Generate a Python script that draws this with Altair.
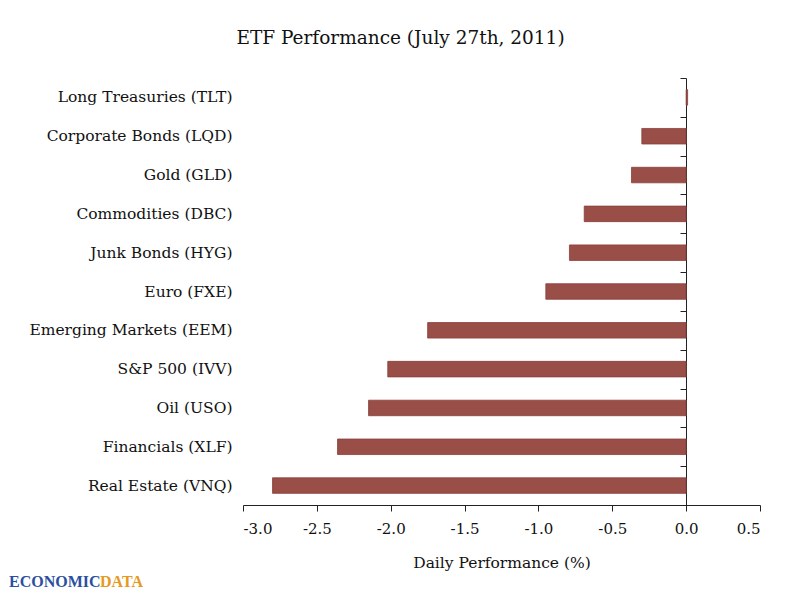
import altair as alt
import pandas as pd

names = ["Long Treasuries (TLT)", "Corporate Bonds (LQD)", "Gold (GLD)", "Commodities (DBC)",
         "Junk Bonds (HYG)", "Euro (FXE)", "Emerging Markets (EEM)", "S&P 500 (IVV)",
         "Oil (USO)", "Financials (XLF)", "Real Estate (VNQ)"]
values = [0.01, -0.30, -0.37, -0.69, -0.79, -0.95, -1.75, -2.02, -2.15, -2.36, -2.80]
x_ticks = [-3.0, -2.5, -2.0, -1.5, -1.0, -0.5, 0.0, 0.5]

df = pd.DataFrame({"name": names, "value": values})
FONT = "DejaVu Serif"

xscale = alt.Scale(domain=[-3.0, 0.5], nice=False, zero=False)

xenc = alt.X("value:Q", scale=xscale,
             axis=alt.Axis(values=x_ticks, format=".1f",
                           labelExpr="replace(datum.label, '\u2212', '-')",
                           title="Daily Performance (%)", grid=False,
                           domainColor="#222", tickColor="#222", tickSize=6,
                           labelFont=FONT, labelFontSize=15, labelColor="#111", labelPadding=10,
                           titleFont=FONT, titleFontSize=15.5, titleFontWeight="normal",
                           titleColor="#111", titlePadding=19))

bars = alt.Chart(df).mark_bar(color="#9A4E48", stroke="#8A3F3A", strokeWidth=0.8).encode(
    x=xenc,
    y=alt.Y("name:N", sort=names, scale=alt.Scale(paddingInner=0.6, paddingOuter=0.3),
            axis=alt.Axis(orient="left", title=None, domain=False, ticks=False,
                          labelFont=FONT, labelFontSize=15.5, labelColor="#111",
                          labelPadding=11, labelLimit=300)),
)

zero_axis = alt.Chart(df).mark_point(opacity=0).encode(
    x=alt.X("value:Q", scale=xscale),
    y=alt.Y("name:N", sort=names, scale=alt.Scale(paddingInner=0, paddingOuter=0),
            axis=alt.Axis(orient="left", title=None, labels=False, domain=True, ticks=True,
                          tickBand="extent", tickSize=6, offset=-443,
                          domainColor="#222", tickColor="#222")),
)

logo1 = alt.Chart(alt.Data(values=[{"t": "ECONOMIC"}])).mark_text(
    font="Liberation Serif", fontWeight="bold", fontSize=16, color="#2B4FA0",
    align="left", baseline="middle").encode(
    text="t:N", x=alt.value(-234), y=alt.value(504))
logo2 = alt.Chart(alt.Data(values=[{"t": "DATA"}])).mark_text(
    font="Liberation Serif", fontWeight="bold", fontSize=16, color="#E59A1E",
    align="left", baseline="middle").encode(
    text="t:N", x=alt.value(-143), y=alt.value(504))

chart = alt.layer(bars, zero_axis, logo1, logo2).resolve_scale(
    y="independent").resolve_axis(y="independent", x="shared").properties(
    width=517, height=427,
    autosize=alt.AutoSizeParams(type="none"),
    padding={"left": 235, "top": 70, "right": 30, "bottom": 90},
    title=alt.TitleParams("ETF Performance (July 27th, 2011)", font=FONT, fontSize=18.5,
                          fontWeight="normal", color="#111", offset=30, dx=-101),
).configure_view(stroke=None)

chart.save("out.html", embed_options={"renderer": "svg", "actions": False})
